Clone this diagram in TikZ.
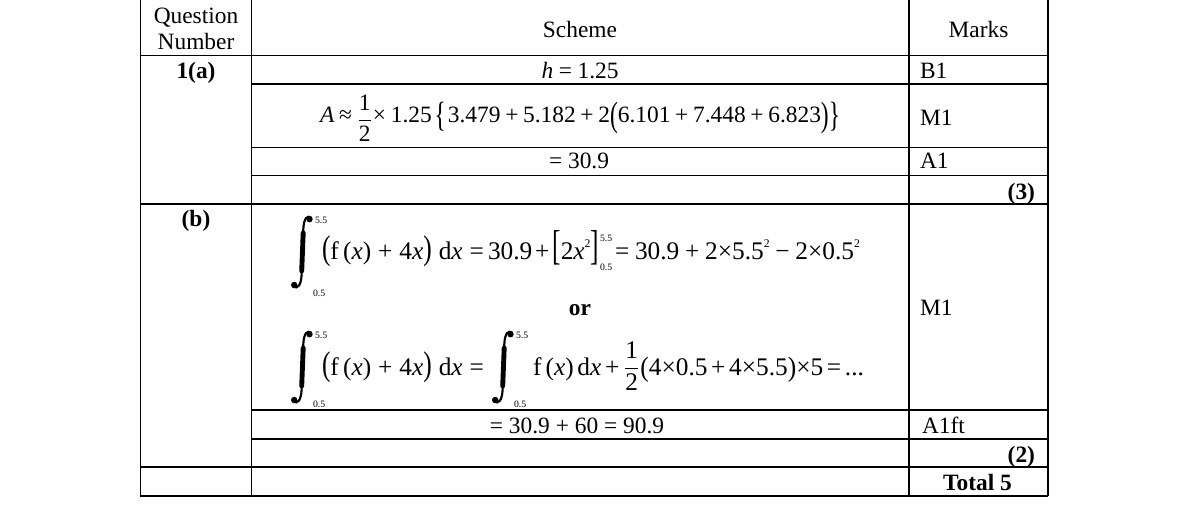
\documentclass[tikz,border=0pt]{standalone}
\usepackage{amsmath}
\usepackage{graphicx}
\usepackage{fontspec}
\setmainfont{Liberation Serif}

\newcommand\W[1]{\dimexpr0.5128pt*#1\relax}
\newcommand\fitbox[2]{\makebox[\W{#1}][s]{\spaceskip=1.2pt plus 20pt minus 1pt\relax #2}}
\newcommand\vbig[3]{\raisebox{#2}{\scalebox{1}[#1]{#3}}}
\newcommand\frc[2]{\raisebox{-2pt}{$\genfrac{}{}{0.5pt}{0}{\mbox{#1}}{\mbox{#2}}$}}
\newcommand\frcb[2]{\raisebox{0.5pt}{$\genfrac{}{}{0.5pt}{0}{\mbox{#1}}{\mbox{#2}}$}}
\newcommand\sq{\raisebox{0.45em}{\fontsize{6}{7}\selectfont 2}}
\newcommand\vx{\textit{x}}
\newcommand\lhsint{\vbig{1.35}{0pt}{(}f\,(\vx) + 4\vx{}\vbig{1.35}{0pt}{)} d\vx{} =}

\tikzset{
  txt/.style={inner sep=0pt, outer sep=0pt, font=\fontsize{12}{14}\selectfont, anchor=base},
  txtl/.style={txt, anchor=base west},
  txtr/.style={txt, anchor=base east},
  fml/.style={txtl, font=\fontsize{13}{15}\selectfont},
  bld/.style={font=\fontsize{12}{14}\selectfont\bfseries},
  lim/.style={inner sep=0pt, outer sep=0pt, font=\fontsize{5}{6}\selectfont, anchor=base west},
  tbl/.style={line width=0.75pt},
  integral/.pic={
    \fill (18.5,3.2) circle[radius=3.2];
    \fill (3.2,69) circle[radius=3.2];
    \draw[line width=1.1pt] (20.5,1.8) .. controls (16,-1.2) and (13,2) .. (12.3,13) -- (10.6,59) .. controls (10,69) and (7,73.5) .. (1.8,70.5);
    \draw[line width=2.5pt, line cap=round] (12.2,17) -- (10.7,55);
  }
}

\begin{document}
\begin{tikzpicture}[x=0.5128pt, y=-0.5128pt]
\useasboundingbox (0,0) rectangle (1184,504);

% table rules
\draw[tbl] (140.7,-2) -- (140.7,496.4);
\draw[tbl] (251.5,-2) -- (251.5,496.4);
\draw[tbl] (909,-2) -- (909,496.4);
\draw[tbl] (1048,-2) -- (1048,496.4);
\foreach \yy in {55.5,204,467,496}
  \draw[tbl] (140.3,\yy) -- (1048.4,\yy);
\foreach \yy in {84,147.5,175.5,410,439}
  \draw[tbl] (251.5,\yy) -- (1048.4,\yy);

% header
\node[txt] (hq1) at (196,23) {Question};
\node[txt] (hq2) at (196,49.5) {Number};
\node[txt] (hs) at (580,37) {Scheme};
\node[txt] (hm) at (978.5,37) {Marks};

% part (a)
\node[txt,bld] (qa) at (196,78) {1(a)};
\node[txt] (ha) at (580,78) {\fitbox{77}{\textit{h} = 1.25}};
\node[txtl] (mb1) at (920,78) {B1};
\node[txtl] (fa) at (320,122) {\fitbox{520}{\textit{A} ≈ \frc{1}{2}× 1.25\hspace{1.5pt}\vbig{1.5}{-0.18em}{\{}\hspace{1pt}3.479 + 5.182 + 2\vbig{1.5}{-0.18em}{(}6.101 + 7.448 + 6.823\vbig{1.5}{-0.18em}{)}\vbig{1.5}{-0.18em}{\}}}};
\node[txtl] (mm1) at (920,125) {M1};
\node[txt] (ra) at (579,168) {= 30.9};
\node[txtl] (ma1) at (920,168) {A1};
\node[txtr,bld] (t3) at (1035,199) {(3)};

% part (b)
\node[txt,bld] (qb) at (196,226) {(b)};

\pic at (291,216) {integral};
\node[lim] (l1u) at (315,223) {5.5};
\node[lim] (l1l) at (313,296) {0.5};
\node[fml] (f1a) at (322,259) {\fitbox{162}{\lhsint}};
\node[fml] (f1b) at (488,259) {\fitbox{111}{30.9 + \vbig{1.65}{0pt}{[}2\vx\sq\vbig{1.65}{0pt}{]}}};
\node[lim] (l2u) at (600,241) {5.5};
\node[lim] (l2l) at (600,270) {0.5};
\node[fml] (f1c) at (615,259) {\fitbox{245}{= 30.9 + 2×5.5\sq{} − 2×0.5\sq}};

\node[txt,bld] (or) at (580,315) {or};
\node[txtl] (mm2) at (920,315) {M1};

\pic at (291,331) {integral};
\node[lim] (l3u) at (315,338) {5.5};
\node[lim] (l3l) at (313,407) {0.5};
\node[fml] (f2a) at (322,375) {\fitbox{162}{\lhsint}};
\pic at (492,331) {integral};
\node[lim] (l4u) at (516,338) {5.5};
\node[lim] (l4l) at (514,407) {0.5};
\node[fml] (f2b) at (533,375) {\fitbox{331}{f\,(\vx) d\vx{} + \frcb{1}{2}\vbig{1.1}{-0.05em}{(}4×0.5 + 4×5.5\vbig{1.1}{-0.05em}{)}×5 = ...}};

\node[txt] (rb) at (577,433) {= 30.9 + 60 = 90.9};
\node[txtl] (ma2) at (922,433) {A1ft};
\node[txtr,bld] (t2) at (1035,462) {(2)};
\node[txt,bld] (tot) at (977.5,490) {Total 5};
\end{tikzpicture}
\end{document}
